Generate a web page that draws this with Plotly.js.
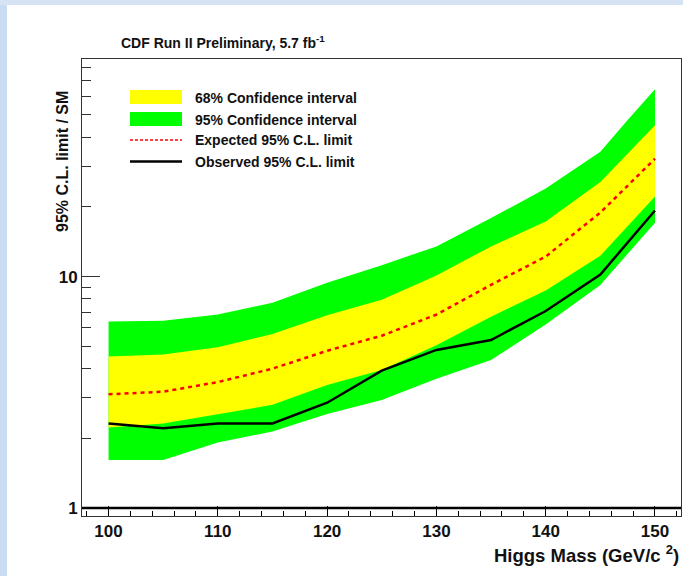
<!DOCTYPE html>
<html>
<head>
<meta charset="utf-8">
<script src="https://cdn.plot.ly/plotly-3.0.1.min.js"></script>
<style>
  html, body { margin: 0; padding: 0; }
  body {
    width: 683px; height: 576px; overflow: hidden;
    background:
      linear-gradient(to bottom, #d6e3f4 0, #d6e3f4 5px, rgba(255,255,255,0) 5px),
      linear-gradient(to right, #c9dcf2 0, #c9dcf2 7px, #ffffff 7px);
  }
  #chart { width: 683px; height: 576px; }
</style>
</head>
<body>
<div id="chart"></div>
<script>
// ---- data ----
const mass = [100, 105, 110, 115, 120, 125, 130, 135, 140, 145, 150];
const expectedLimit = [3.10, 3.18, 3.50, 4.00, 4.78, 5.55, 6.85, 9.21, 12.2, 18.9, 32.3];
const observedLimit = [2.32, 2.21, 2.32, 2.32, 2.85, 3.92, 4.82, 5.32, 7.10, 10.2, 19.3];
const band68Upper = [4.51, 4.60, 4.95, 5.65, 6.80, 7.93, 10.1, 13.5, 17.3, 25.6, 45.1];
const band68Lower = [2.23, 2.32, 2.54, 2.79, 3.40, 3.95, 5.05, 6.71, 8.70, 12.3, 22.2];
const mass95Upper = [100, 105, 110, 115, 120, 125, 130, 135, 140, 145, 147.5, 150];
const band95Upper = [6.39, 6.45, 6.85, 7.70, 9.40, 11.2, 13.5, 17.9, 24.0, 34.6, 47.5, 64.5];
const band95Lower = [1.61, 1.61, 1.92, 2.14, 2.55, 2.93, 3.62, 4.36, 6.20, 9.20, 17.1];
const xTickVals = [100, 110, 120, 130, 140, 150];
const legendLabels = ['68% Confidence interval', '95% Confidence interval',
                      'Expected 95% C.L. limit', 'Observed 95% C.L. limit'];
const titleText = 'CDF Run II Preliminary, 5.7 fb<sup>-1</sup>';
const xTitleText = 'Higgs Mass (GeV/c <sup>2</sup>)';
const yTitleText = '95% C.L. limit / SM';

// ---- layout geometry (pixels) ----
const W = 683, H = 576;
const M = { l: 82, r: 2, t: 59, b: 60 };
const plotW = W - M.l - M.r, plotH = H - M.t - M.b;
const px = x => (x - M.l) / plotW;            // page px -> paper x
const py = y => (H - M.b - y) / plotH;        // page px -> paper y

const rev = a => a.slice().reverse();

const font = 'Liberation Sans, Arial, Helvetica, sans-serif';

const traces = [
  {
    x: mass95Upper.concat(rev(mass)),
    y: band95Upper.concat(rev(band95Lower)),
    type: 'scatter', mode: 'lines', fill: 'toself',
    fillcolor: '#00ff00', line: { width: 0, color: '#00ff00' },
    hoverinfo: 'skip', showlegend: false
  },
  {
    x: mass.concat(rev(mass)),
    y: band68Upper.concat(rev(band68Lower)),
    type: 'scatter', mode: 'lines', fill: 'toself',
    fillcolor: '#ffff00', line: { width: 0, color: '#ffff00' },
    hoverinfo: 'skip', showlegend: false
  },
  {
    x: mass, y: expectedLimit, type: 'scatter', mode: 'lines',
    line: { color: '#ff0000', width: 2.5, dash: '4px,4px' }, showlegend: false
  },
  {
    x: mass, y: observedLimit, type: 'scatter', mode: 'lines',
    line: { color: '#000000', width: 2.5 }, showlegend: false
  }
];

const shapes = [
  // thick axis line at limit = 1
  { type: 'line', xref: 'paper', yref: 'y', x0: 0, x1: 1, y0: 1, y1: 1,
    line: { color: '#000', width: 2.5 } },
  // legend symbols
  { type: 'rect', xref: 'paper', yref: 'paper', x0: px(130), x1: px(182), y0: py(104), y1: py(90),
    fillcolor: '#ffff00', line: { width: 0 } },
  { type: 'rect', xref: 'paper', yref: 'paper', x0: px(130), x1: px(182), y0: py(126), y1: py(112),
    fillcolor: '#00ff00', line: { width: 0 } },
  { type: 'line', xref: 'paper', yref: 'paper', x0: px(130), x1: px(182), y0: py(140), y1: py(140),
    line: { color: '#ff0000', width: 1.5, dash: '3px,2px' } },
  { type: 'line', xref: 'paper', yref: 'paper', x0: px(130), x1: px(182), y0: py(161.5), y1: py(161.5),
    line: { color: '#000', width: 2.5 } }
];

const legendY = [98, 119.5, 140, 161.5];
const annotations = legendLabels.map((t, i) => ({
  text: t, xref: 'paper', yref: 'paper', x: px(193), y: py(legendY[i]),
  xanchor: 'left', yanchor: 'middle', showarrow: false,
  font: { family: font, size: 14, color: '#111', weight: 'bold' }
}));
annotations.push(
  { text: titleText, xref: 'paper', yref: 'paper', x: px(119), y: py(42),
    xanchor: 'left', yanchor: 'middle', showarrow: false,
    font: { family: font, size: 14, color: '#111', weight: 'bold' } },
  { text: xTitleText, xref: 'paper', yref: 'paper', x: px(681), y: py(554),
    xanchor: 'right', yanchor: 'middle', showarrow: false,
    font: { family: font, size: 18.5, color: '#111', weight: 'bold' } },
  { text: yTitleText, xref: 'paper', yref: 'paper', x: px(62), y: py(162),
    xanchor: 'center', yanchor: 'middle', textangle: -90, showarrow: false,
    font: { family: font, size: 16, color: '#111', weight: 'bold' } }
);

const layout = {
  width: W, height: H,
  margin: M,
  paper_bgcolor: 'rgba(0,0,0,0)',
  plot_bgcolor: '#ffffff',
  showlegend: false,
  xaxis: {
    range: [97.57, 152.38],
    tickmode: 'array', tickvals: xTickVals,
    ticks: 'inside', ticklen: 10, tickwidth: 1, tickcolor: '#000',
    minor: { dtick: 2, tick0: 100, ticks: 'inside', ticklen: 5, tickcolor: '#000', tickwidth: 1 },
    showline: true, mirror: true, linecolor: '#333', linewidth: 1,
    showgrid: false, zeroline: false,
    tickfont: { family: font, size: 17, color: '#111', weight: 'bold' }
  },
  yaxis: {
    type: 'log',
    range: [-0.0346, 1.940],
    dtick: 1, tick0: 0,
    ticks: 'inside', ticklen: 18, tickwidth: 1, tickcolor: '#333',
    minor: { dtick: 'D1', ticks: 'inside', ticklen: 9, tickcolor: '#333', tickwidth: 1 },
    showline: true, mirror: true, linecolor: '#333', linewidth: 1,
    showgrid: false, zeroline: false,
    tickfont: { family: font, size: 17, color: '#111', weight: 'bold' }
  },
  shapes: shapes,
  annotations: annotations
};

Plotly.newPlot('chart', traces, layout, { staticPlot: true, displayModeBar: false });
</script>
</body>
</html>
